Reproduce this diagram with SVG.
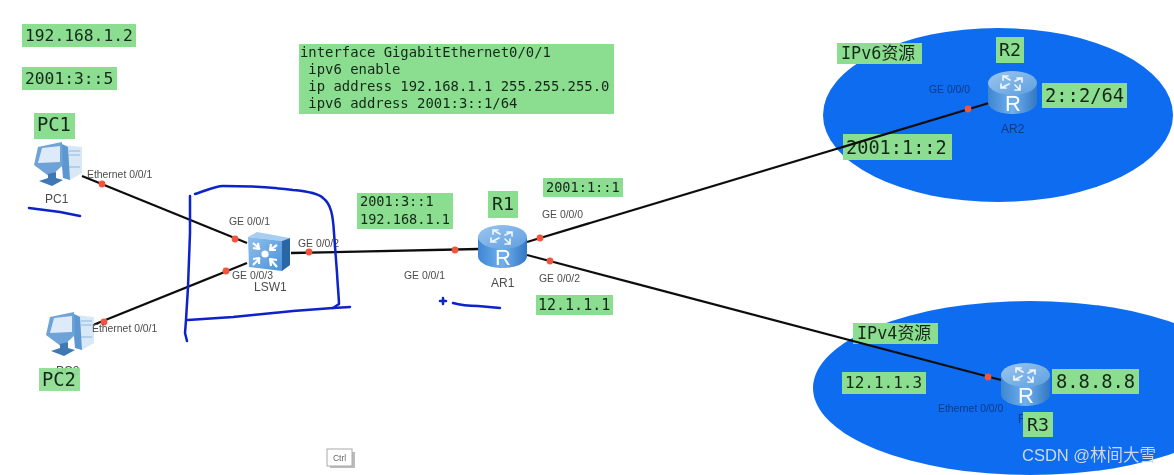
<svg xmlns="http://www.w3.org/2000/svg" width="1174" height="475" viewBox="0 0 1174 475">
<style>
.z{fill:#0a6cf0}
.g{fill:#8bdd8f}
.m{font-family:"DejaVu Sans Mono","Liberation Mono","Noto Sans CJK SC",monospace;fill:#15281a}
.n{font-family:"Liberation Sans",Arial,sans-serif;font-size:10.4px;fill:#4c4c4c}
.d{font-family:"Liberation Sans",Arial,sans-serif;font-size:10.4px;fill:#0b3a86}
.l{font-size:12px}
.c{fill:none;stroke:#111;stroke-width:2.300}
.p{fill:#f2553d}
.h{fill:none;stroke:#0a22c8;stroke-width:2.500;stroke-linecap:round;stroke-linejoin:round}
.ic{fill:none;stroke:#eef6ff;stroke-width:1.700;stroke-linecap:round;stroke-linejoin:round}
.sw{fill:none;stroke:#fff;stroke-width:2.200;stroke-linejoin:round}
</style>
<defs>
<filter id="soft" x="0" y="0" width="100%" height="100%"><feGaussianBlur stdDeviation="0.5"/></filter>
<linearGradient id="cyl" x1="0" x2="1" y1="0" y2="0"><stop offset="0" stop-color="#3f86d2"/><stop offset=".5" stop-color="#6fb0ee"/><stop offset="1" stop-color="#3377c4"/></linearGradient>
<linearGradient id="top" x1="0" x2="1" y1="0" y2="1"><stop offset="0" stop-color="#9cc6ef"/><stop offset="1" stop-color="#5d9fe0"/></linearGradient>
<linearGradient id="sw" x1="0" x2="1" y1="0" y2="1"><stop offset="0" stop-color="#8fc0ee"/><stop offset="1" stop-color="#4d92d8"/></linearGradient>
<g id="router">
<path d="M0 12 V31 C0 38 11 43 24.500 43 C38 43 49 38 49 31 V12 Z" fill="url(#cyl)"/>
<ellipse cx="24.500" cy="12" rx="24.500" ry="12" fill="url(#top)"/>
<path class="ic" d="M15 5 L22 9 M15 5 H20 M15 5 V9 M34 7 L27 10 M34 7 H29 M34 7 V11 M13 17 L21 13 M13 17 H18 M13 17 V13 M32 19 L27 14 M32 19 H27 M32 19 V14"/>
<text x="25" y="40" text-anchor="middle" font-family="Liberation Sans,Arial,sans-serif" font-size="22" fill="#fff">R</text>
</g>
<g id="pc">
<path d="M33 5 L52 7 V33 L40 40 L33 37 Z" fill="#d9e8f7"/>
<path d="M39 11 H50 M39 15 H50 M39 27 H50" stroke="#8db6de" stroke-width="1"/>
<path d="M30 3 L38 7 L40 40 L33 38 Z" fill="#5d97d2"/>
<path d="M8 7 L32 2 L33 25 L20 37 L4 25 Z" fill="#6ea3d8"/>
<path d="M12 8 L30 6 V22 L8 23 Z" fill="#dceafa"/>
<path d="M18 34 L26 32 V38 L33 40 L22 46 L9 41 L18 38 Z" fill="#3f78b4"/>
</g>
</defs>
<g filter="url(#soft)">
<g id="zones">
<ellipse class="z" cx="998" cy="115" rx="175" ry="87"/>
<ellipse class="z" cx="1030" cy="388" rx="217" ry="87"/>
</g>
<g id="labels-under">
<rect class="g" x="843" y="134" width="109" height="26"/>
<text class="m" x="846" y="154" font-size="18.600">2001:1::2</text>
<rect class="g" x="853" y="323" width="85" height="21"/>
<text class="m" x="857" y="339" font-size="16.800">IPv4资源</text>
</g>
<g id="connectors">
<line class="c" x1="82" y1="176" x2="247" y2="243"/>
<line class="c" x1="93" y1="325" x2="247" y2="263"/>
<line class="c" x1="291" y1="253" x2="479" y2="249"/>
<line class="c" x1="527" y1="242" x2="989" y2="103"/>
<line class="c" x1="527" y1="255" x2="1001" y2="380"/>
<circle class="p" cx="102" cy="184" r="3.400"/>
<circle class="p" cx="235" cy="239" r="3.400"/>
<circle class="p" cx="226" cy="271" r="3.400"/>
<circle class="p" cx="309" cy="252" r="3.400"/>
<circle class="p" cx="104" cy="322" r="3.400"/>
<circle class="p" cx="455" cy="250" r="3.400"/>
<circle class="p" cx="540" cy="238" r="3.400"/>
<circle class="p" cx="550" cy="261" r="3.400"/>
<circle class="p" cx="968" cy="109" r="3.400"/>
<circle class="p" cx="988" cy="377" r="3.400"/>
</g>
<g id="PC1">
<use href="#pc" x="30" y="140"/>
<text class="n l" x="45" y="203">PC1</text>
<text class="n" x="87" y="178">Ethernet 0/0/1</text>
</g>
<g id="PC2">
<use href="#pc" x="42" y="310"/>
<text class="n l" x="56" y="375">PC2</text>
<text class="n" x="92" y="332">Ethernet 0/0/1</text>
</g>
<g id="LSW1">
<path d="M248 237 L257 232 L290 238 L282 241 Z" fill="#a9cdf0"/>
<path d="M282 241 L290 238 V265 L282 271 Z" fill="#2a66a6"/>
<path d="M248 237 L282 241 V271 L249 267 Z" fill="url(#sw)"/>
<circle cx="265" cy="254" r="3.600" fill="#fff"/>
<path class="sw" d="M253 243 L260 249 M253 248 L259 249 L258 243 M277 245 L270 250 M271 244 L270 250 L276 250 M253 265 L260 258 M253 259 L259 258 L259 264 M277 267 L270 259 M271 266 L270 259 L277 260"/>
<text class="n" x="229" y="225">GE 0/0/1</text>
<text class="n" x="298" y="247">GE 0/0/2</text>
<text class="n" x="232" y="279">GE 0/0/3</text>
<text class="n l" x="254" y="291">LSW1</text>
</g>
<g id="AR1">
<use href="#router" x="478" y="225"/>
<text class="n l" x="491" y="287">AR1</text>
<text class="n" x="404" y="279">GE 0/0/1</text>
<text class="n" x="542" y="218">GE 0/0/0</text>
<text class="n" x="539" y="282">GE 0/0/2</text>
</g>
<g id="AR2">
<use href="#router" x="988" y="71"/>
<text class="d l" x="1001" y="133">AR2</text>
<text class="d" x="929" y="93">GE 0/0/0</text>
</g>
<g id="AR3">
<use href="#router" x="1001" y="363"/>
<text class="d l" x="1018" y="423">R</text>
<text class="d" x="938" y="412">Ethernet 0/0/0</text>
</g>
<g id="labels">
<rect class="g" x="22" y="24" width="114" height="23"/>
<text class="m" x="25" y="41" font-size="16.300">192.168.1.2</text>
<rect class="g" x="22" y="67" width="95" height="23"/>
<text class="m" x="25" y="84" font-size="16.300">2001:3::5</text>
<rect class="g" x="34" y="113" width="41" height="26"/>
<text class="m" x="37" y="131" font-size="18.800">PC1</text>
<rect class="g" x="39" y="368" width="41" height="23" fill-opacity="0.92"/>
<text class="m" x="42" y="386" font-size="18.800">PC2</text>
<g id="config">
<rect class="g" x="299" y="44" width="315" height="70"/>
<text class="m" font-size="13.900"><tspan x="300" y="57">interface GigabitEthernet0/0/1</tspan><tspan x="300" y="74"> ipv6 enable</tspan><tspan x="300" y="91"> ip address 192.168.1.1 255.255.255.0</tspan><tspan x="300" y="108"> ipv6 address 2001:3::1/64</tspan></text>
</g>
<rect class="g" x="357" y="193" width="96" height="36"/>
<text class="m" font-size="13.600"><tspan x="360" y="206">2001:3::1</tspan><tspan x="360" y="224">192.168.1.1</tspan></text>
<rect class="g" x="488" y="191" width="30" height="27"/>
<text class="m" x="492" y="210" font-size="18.300">R1</text>
<rect class="g" x="543" y="178" width="80" height="19"/>
<text class="m" x="546" y="192" font-size="13.600">2001:1::1</text>
<rect class="g" x="536" y="295" width="77" height="20"/>
<text class="m" x="538" y="310" font-size="15">12.1.1.1</text>
<rect class="g" x="837" y="43" width="85" height="21"/>
<text class="m" x="841" y="59" font-size="16.800">IPv6资源</text>
<rect class="g" x="996" y="37" width="28" height="26"/>
<text class="m" x="999" y="56" font-size="18.300">R2</text>
<rect class="g" x="1042" y="83" width="85" height="25"/>
<text class="m" x="1045" y="102" font-size="18.800">2::2/64</text>
<rect class="g" x="842" y="372" width="84" height="22"/>
<text class="m" x="845" y="388" font-size="16">12.1.1.3</text>
<rect class="g" x="1052" y="369" width="87" height="25"/>
<text class="m" x="1056" y="388" font-size="18.800">8.8.8.8</text>
<rect class="g" x="1023" y="412" width="30" height="25"/>
<text class="m" x="1027" y="431" font-size="18.300">R3</text>
</g>
<g id="annotations">
<path class="h" d="M190 196 L190 233 L188 287 L186 320 L185 333 L187 341"/>
<path class="h" d="M195 194 C205 191 215 186 223 186 C245 186 270 187 293 190 C305 191 318 193 323 198 C331 204 333 215 334 233 L337 273 C338 290 339 300 339 304 L333 308"/>
<path class="h" d="M350 307 L333 308 L293 311 L233 317 L188 320"/>
<path class="h" d="M29 208 L60 212 L80 216"/>
<path class="h" d="M440 301 H446 M443 298 V304" stroke-width="1.500"/>
<path class="h" d="M453 303 C460 305 470 306 478 306 L500 308"/>
</g>
<g id="ctrl">
<rect x="330" y="452" width="25" height="16" fill="#bbb"/>
<rect x="327" y="449" width="25" height="17" fill="#fff" stroke="#aaa"/>
<text x="339.500" y="461" text-anchor="middle" font-family="Liberation Sans,Arial,sans-serif" font-size="8.500" fill="#666">Ctrl</text>
</g>
</g>
<text id="watermark" x="1022" y="461" font-family="Liberation Sans,'Noto Sans CJK SC',sans-serif" font-size="16.500" fill="#cdd8e6">CSDN @林间大雪</text>
</svg>
